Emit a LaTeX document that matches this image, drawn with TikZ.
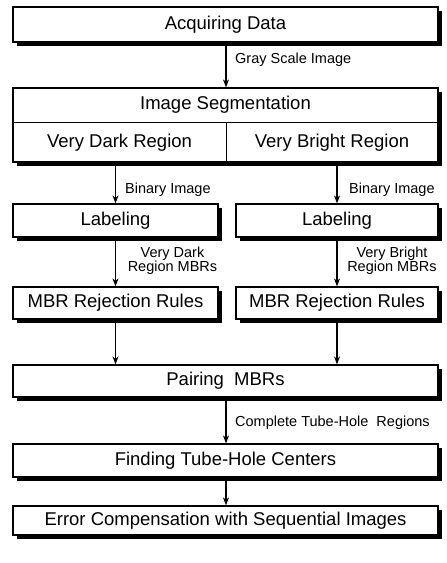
\documentclass[tikz,border=0pt]{standalone}
\usepackage{fontspec}
\setmainfont{Liberation Sans}
\usetikzlibrary{arrows.meta,shadows}
\begin{document}
\begin{tikzpicture}[x=1pt,y=-1pt,
  box/.style={draw, line width=1.2pt, fill=white, inner sep=0pt,
    font=\fontsize{18.5}{20}\selectfont,
    drop shadow={shadow xshift=4pt, shadow yshift=-4pt, fill=black, opacity=1}},
  txt/.style={inner sep=0pt, font=\fontsize{18.5}{20}\selectfont},
  lbl/.style={inner sep=0pt, align=center, font=\fontsize{14.5}{14}\selectfont},
  arr/.style={line width=1.1pt, -{Stealth[length=8pt,width=6pt]}},
]
\useasboundingbox (0,0) rectangle (447,563);
% boxes
\node[box, minimum width=425pt, minimum height=35pt] (acq) at (225.5,24.5) {Acquiring Data};
\node[box, minimum width=425pt, minimum height=74pt] (seg) at (225.5,125) {};
\node[txt] (segt) at (225.5,105) {Image Segmentation};
\node[txt] (dark) at (119.5,142.5) {Very Dark Region};
\node[txt] (bright) at (332,142.5) {Very Bright Region};
\coordinate (divl) at (13,122);
\coordinate (divr) at (438,122);
\coordinate (divt) at (226,122);
\coordinate (divb) at (226,162);
\draw[line width=1pt] (divl) -- (divr);
\draw[line width=1pt] (divt) -- (divb);
\node[box, minimum width=205pt, minimum height=33pt] (labl) at (115.5,220.5) {Labeling};
\node[box, minimum width=202pt, minimum height=33pt] (labr) at (337,220.5) {Labeling};
\node[box, minimum width=205pt, minimum height=32pt] (mbrl) at (115.5,303) {MBR Rejection Rules};
\node[box, minimum width=202pt, minimum height=32pt] (mbrr) at (337,303) {MBR Rejection Rules};
\node[box, minimum width=425pt, minimum height=32pt] (pair) at (225.5,381) {Pairing\ \ MBRs};
\node[box, minimum width=425pt, minimum height=33pt] (find) at (225.5,460.5) {Finding Tube-Hole Centers};
\node[box, minimum width=425pt, minimum height=29pt] (err) at (225.5,520.5) {Error Compensation with Sequential Images};
% arrows
\draw[arr] (acq.south -| divt) -- (seg.north -| divt);
\draw[arr] (seg.south -| labl.north) -- (labl.north);
\draw[arr] (seg.south -| labr.north) -- (labr.north);
\draw[arr] (labl) -- (mbrl);
\draw[arr] (labr) -- (mbrr);
\draw[arr] (mbrl.south) -- (pair.north -| mbrl.south);
\draw[arr] (mbrr.south) -- (pair.north -| mbrr.south);
\draw[arr] (pair.south -| divt) -- (find.north -| divt);
\draw[arr] (find.south -| divt) -- (err.north -| divt);
% labels
\node[lbl, anchor=west] (l1) at (235,60) {Gray Scale Image};
\node[lbl, anchor=west] (l2) at (125,190) {Binary Image};
\node[lbl, anchor=west] (l3) at (349,190) {Binary Image};
\node[lbl] (l4) at (172.5,261) {Very Dark\\Region MBRs};
\node[lbl] (l5) at (392,261) {Very Bright\\Region MBRs};
\node[lbl, anchor=west] (l6) at (235,423) {Complete Tube-Hole\ \ Regions};
\end{tikzpicture}
\end{document}
